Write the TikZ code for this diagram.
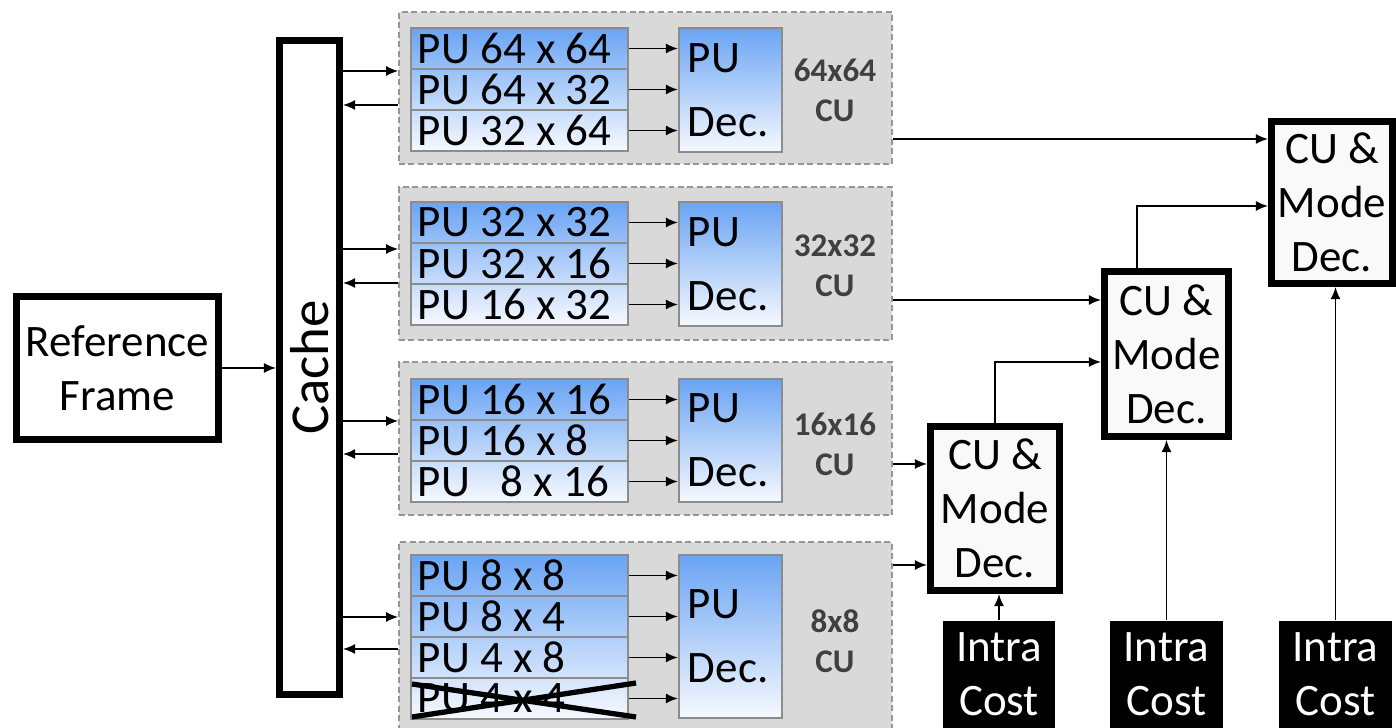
\documentclass[tikz,border=0pt]{standalone}
\usepackage{fontspec}
\setmainfont{Carlito}
\usepackage{xcolor}
\usetikzlibrary{arrows.meta,positioning}

\definecolor{publue}{RGB}{106,164,244}
\definecolor{pulight}{RGB}{246,249,254}
\definecolor{grpfill}{RGB}{217,217,217}
\definecolor{grpline}{RGB}{150,150,150}
\definecolor{cutxt}{RGB}{64,64,64}
\newcommand{\pulbl}[1]{\makebox[2.03cm][l]{#1}}

\begin{document}
\begin{tikzpicture}[
    x=0.01cm, y=-0.01cm,
    font=\fontsize{12.8}{15.4}\selectfont,
    arr/.style={-{Latex[length=1.2mm, width=1mm]}, line width=0.45pt},
    thickbox/.style={draw, line width=2pt, inner sep=0pt, align=center},
    refbox/.style={thickbox, fill=white, minimum width=2.02cm, minimum height=1.43cm},
    cachebox/.style={thickbox, fill=white, minimum width=0.6cm, minimum height=6.54cm},
    cubox/.style={thickbox, fill=gray!5, minimum width=1.26cm, minimum height=1.64cm},
    intrabox/.style={fill=black, text=white, inner sep=0pt, align=center, minimum width=1.12cm, minimum height=1.07cm},
    group/.style={draw=grpline, fill=grpfill, dash pattern=on 1.7pt off 1pt, line width=0.4pt, inner sep=0pt, minimum width=4.93cm},
    purow/.style={draw=gray!90, line width=0.6pt, inner xsep=0.07cm, inner ysep=0pt, minimum height=0.41cm},
    decbox/.style={draw=gray!90, line width=0.6pt, text width=0.85cm, inner xsep=0.09cm, inner ysep=0pt, align=left, top color=publue, bottom color=pulight},
    culabel/.style={font=\fontsize{9.4}{11.4}\selectfont\bfseries, text=cutxt, align=center}
  ]
    \useasboundingbox (0,0) rectangle (1396,728);
    \clip (0,0) rectangle (1396,728);
    \fill[white] (0,0) rectangle (1396,728);

    \node[refbox] (ref) at (117.5,368) {Reference\\Frame};
    \node[cachebox, label={[rotate=90, font=\fontsize{15.6}{18}\selectfont]center:Cache}] (cache) at (309.5,367.5) {};
    \draw[arr] (ref.east) -- (cache.west |- ref.east);

    \begin{scope}
      \node[group, minimum height=1.52cm] (g1) at (645.5,88) {};
      \node[purow, top color=publue, bottom color=publue!67!pulight] (p11) at (519.5,48.5) {\pulbl{PU 64 x 64}};
      \node[purow, top color=publue!67!pulight, bottom color=publue!33!pulight] (p12) at (519.5,89.5) {\pulbl{PU 64 x 32}};
      \node[purow, top color=publue!33!pulight, bottom color=pulight] (p13) at (519.5,130.5) {\pulbl{PU 32 x 64}};
      \node[decbox, minimum height=1.24cm] (d1) at (730.5,90) {PU\\[0.1cm]Dec.};
      \node[culabel] (l1) at (835,90) {64x64\\CU};
      \draw[arr] (p11.east) -- (p11.east -| d1.west);
      \draw[arr] (p12.east) -- (p12.east -| d1.west);
      \draw[arr] (p13.east) -- (p13.east -| d1.west);
    \end{scope}

    \begin{scope}
      \node[group, minimum height=1.53cm] (g2) at (645.5,263.5) {};
      \node[purow, top color=publue, bottom color=publue!67!pulight] (p21) at (519.5,222.5) {\pulbl{PU 32 x 32}};
      \node[purow, top color=publue!67!pulight, bottom color=publue!33!pulight] (p22) at (519.5,263.5) {\pulbl{PU 32 x 16}};
      \node[purow, top color=publue!33!pulight, bottom color=pulight] (p23) at (519.5,304.5) {\pulbl{PU 16 x 32}};
      \node[decbox, minimum height=1.24cm] (d2) at (730.5,264) {PU\\[0.1cm]Dec.};
      \node[culabel] (l2) at (835,266) {32x32\\CU};
      \draw[arr] (p21.east) -- (p21.east -| d2.west);
      \draw[arr] (p22.east) -- (p22.east -| d2.west);
      \draw[arr] (p23.east) -- (p23.east -| d2.west);
    \end{scope}

    \begin{scope}
      \node[group, minimum height=1.53cm] (g3) at (645.5,438.5) {};
      \node[purow, top color=publue, bottom color=publue!67!pulight] (p31) at (519.5,399.5) {\pulbl{PU 16 x 16}};
      \node[purow, top color=publue!67!pulight, bottom color=publue!33!pulight] (p32) at (519.5,440.5) {\pulbl{PU 16 x 8}};
      \node[purow, top color=publue!33!pulight, bottom color=pulight] (p33) at (519.5,481.5) {\pulbl{PU~~~8 x 16}};
      \node[decbox, minimum height=1.23cm] (d3) at (730.5,440.5) {PU\\[0.1cm]Dec.};
      \node[culabel] (l3) at (835,444) {16x16\\CU};
      \draw[arr] (p31.east) -- (p31.east -| d3.west);
      \draw[arr] (p32.east) -- (p32.east -| d3.west);
      \draw[arr] (p33.east) -- (p33.east -| d3.west);
    \end{scope}

    \begin{scope}
      \node[group, minimum height=1.98cm] (g4) at (645.5,641) {};
      \node[purow, top color=publue, bottom color=publue!75!pulight] (p41) at (519.5,575.5) {\pulbl{PU 8 x 8}};
      \node[purow, top color=publue!75!pulight, bottom color=publue!50!pulight] (p42) at (519.5,616.5) {\pulbl{PU 8 x 4}};
      \node[purow, top color=publue!50!pulight, bottom color=publue!25!pulight] (p43) at (519.5,657.5) {\pulbl{PU 4 x 8}};
      \node[purow, top color=publue!25!pulight, bottom color=pulight] (p44) at (519.5,698.5) {\pulbl{PU 4 x 4}};
      \node[decbox, minimum height=1.63cm] (d4) at (730.5,636.5) {PU\\[0.1cm]Dec.};
      \node[culabel] (l4) at (835,641) {8x8\\CU};
      \draw[arr] (p41.east) -- (p41.east -| d4.west);
      \draw[arr] (p42.east) -- (p42.east -| d4.west);
      \draw[arr] (p43.east) -- (p43.east -| d4.west);
      \draw[arr] (p44.east) -- (p44.east -| d4.west);
      \draw[line width=1.5pt] (412,717) -- (636,683);
      \draw[line width=1.5pt] (412,684) -- (636,717);
    \end{scope}

    \draw[arr] (cache.east |- 0,71) -- (g1.west |- 0,71);
    \draw[arr] (g1.west |- 0,105) -- (cache.east |- 0,105);
    \draw[arr] (cache.east |- 0,249) -- (g2.west |- 0,249);
    \draw[arr] (g2.west |- 0,283) -- (cache.east |- 0,283);
    \draw[arr] (cache.east |- 0,421) -- (g3.west |- 0,421);
    \draw[arr] (g3.west |- 0,454) -- (cache.east |- 0,454);
    \draw[arr] (cache.east |- 0,617) -- (g4.west |- 0,617);
    \draw[arr] (g4.west |- 0,649) -- (cache.east |- 0,649);

    \node[cubox, minimum width=1.29cm] (cuA) at (995,508.5) {CU \&\\Mode\\Dec.};
    \node[cubox, minimum width=1.24cm, minimum height=1.65cm] (cuB) at (1166.5,354) {CU \&\\Mode\\Dec.};
    \node[cubox, minimum width=1.21cm, minimum height=1.62cm] (cuC) at (1332,202.5) {CU \&\\Mode\\Dec.};

    \node[intrabox] (intra1) at (999,674.5) {Intra\\Cost};
    \node[intrabox] (intra2) at (1166.5,674.5) {Intra\\Cost};
    \node[intrabox] (intra3) at (1335.5,674.5) {Intra\\Cost};

    \draw[arr] (g1.east |- 0,139) -- (cuC.west |- 0,139);
    \draw[arr] (g2.east |- 0,300) -- (cuB.west |- 0,300);
    \draw[arr] (g3.east |- 0,464) -- (cuA.west |- 0,464);
    \draw[arr] (g4.east |- 0,565) -- (cuA.west |- 0,565);
    \draw[arr] (cuA.north) |- (cuB.west |- 0,362);
    \draw[arr] ([xshift=-0.295cm]cuB.north) |- (cuC.west |- 0,206);
    \draw[arr] (intra1.north) -- (intra1.north |- cuA.south);
    \draw[arr] (intra2.north) -- (intra2.north |- cuB.south);
    \draw[arr] (intra3.north) -- (intra3.north |- cuC.south);
  \end{tikzpicture}
\end{document}
